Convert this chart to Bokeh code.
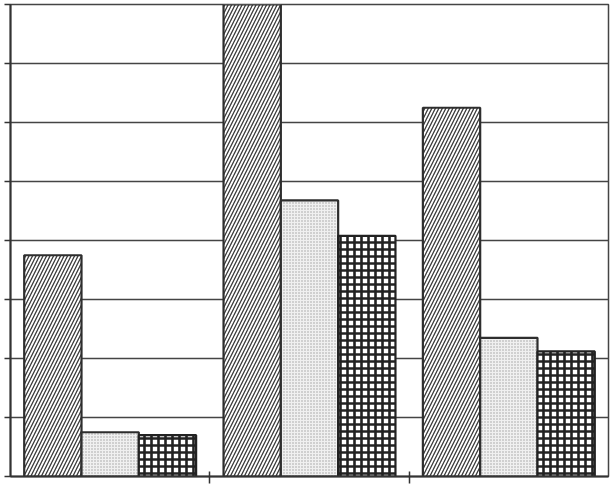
from bokeh.plotting import figure
from bokeh.models import ColumnDataSource, Range1d, FixedTicker
from bokeh.transform import dodge
from bokeh.embed import file_html
from bokeh.resources import INLINE

groups = [0.5, 1.5, 2.5]
series_a = [3.75, 8.0, 6.25]   # diagonal hatch
series_b = [0.75, 4.68, 2.35]  # stipple
series_c = [0.70, 4.08, 2.12]  # cross grid
y_ticks = [0, 1, 2, 3, 4, 5, 6, 7, 8]
x_ticks = [1, 2]

src = ColumnDataSource(dict(x=groups, a=series_a, b=series_b, c=series_c))

p = figure(width=611, height=485, output_backend="svg", toolbar_location=None,
           x_range=Range1d(0, 3), y_range=Range1d(0, 8),
           min_border_left=10, min_border_top=4, min_border_right=3, min_border_bottom=9)

line_col = "#2e2e2e"
w = 0.2875
p.vbar(x=dodge("x", -w, range=p.x_range), top="a", width=w, source=src,
       fill_color="white", line_color=line_col, line_width=2.2,
       hatch_pattern="right_diagonal_line", hatch_color="#3a3a3a",
       hatch_scale=7, hatch_weight=1.3)
p.vbar(x=dodge("x", 0, range=p.x_range), top="b", width=w, source=src,
       fill_color="#f0f0f0", line_color=line_col, line_width=2.2,
       hatch_pattern="dot", hatch_color="#a0a0a0",
       hatch_scale=3, hatch_weight=1)
p.vbar(x=dodge("x", w, range=p.x_range), top="c", width=w, source=src,
       fill_color="white", line_color="#222222", line_width=2.2,
       hatch_pattern="cross", hatch_color="#222222",
       hatch_scale=7, hatch_weight=2.6)

p.xgrid.visible = False
p.ygrid.ticker = FixedTicker(ticks=y_ticks)
p.ygrid.grid_line_color = "#444444"
p.ygrid.grid_line_width = 1.5
p.ygrid.level = "underlay"

p.yaxis.ticker = FixedTicker(ticks=y_ticks)
p.xaxis.ticker = FixedTicker(ticks=x_ticks)
for ax in (p.xaxis, p.yaxis):
    ax.major_label_text_font_size = "0px"
    ax.major_label_standoff = 0
    ax.minor_tick_line_color = None
    ax.axis_line_color = "#333333"
    ax.axis_line_width = 2
    ax.major_tick_line_color = "#333333"
    ax.major_tick_line_width = 1.5
p.yaxis.major_tick_out = 6
p.yaxis.major_tick_in = 0
p.xaxis.major_tick_out = 7
p.xaxis.major_tick_in = 5

p.outline_line_color = "#444444"
p.outline_line_width = 1.5
p.background_fill_color = "white"
p.border_fill_color = "white"

open("out.html", "w").write(file_html(p, INLINE))
